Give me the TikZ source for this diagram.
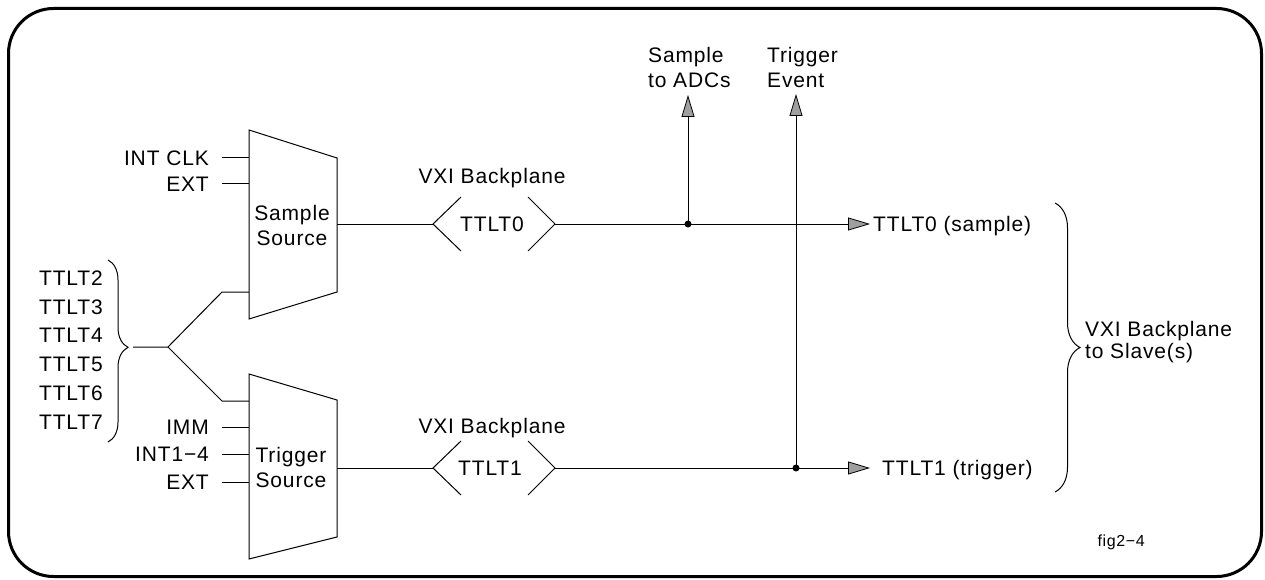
\documentclass[tikz,border=0pt]{standalone}
\usepackage{fontspec}
\setmainfont{Liberation Sans}[LetterSpace=4]
\usetikzlibrary{arrows.meta,decorations.pathreplacing}
\begin{document}
\begin{tikzpicture}[x=1pt,y=-1pt,
  ln/.style={line width=1pt},
  lbl/.style={inner sep=0pt, font=\fontsize{21}{25}\selectfont},
  arr/.style={-{Triangle[length=22pt,width=13pt,fill=gray!75,line width=0.8pt]}},
  dot/.style={circle,fill,inner sep=0pt,minimum size=7pt},
]
\useasboundingbox (0,0) rectangle (1265,580);
\draw[line width=3pt, rounded corners=45pt] (8.5,8.5) rectangle (1261.5,576.5);

% Sample source
\coordinate (ssTL) at (249,130); \coordinate (ssTR) at (337,158);
\coordinate (ssBR) at (337,292); \coordinate (ssBL) at (249,319);
\draw[ln] (ssTL)--(ssTR)--(ssBR)--(ssBL)--cycle;
\node[lbl,align=center] (ssl) at (292,225) {Sample\\Source};
\coordinate (ssIn1) at (249,158); \coordinate (ssIn2) at (249,184);
\coordinate (ssIn3) at (249,292); \coordinate (ssOut) at (337,224);

% Trigger source
\coordinate (tsTL) at (249,374); \coordinate (tsTR) at (337,400);
\coordinate (tsBR) at (337,537); \coordinate (tsBL) at (249,559);
\draw[ln] (tsTL)--(tsTR)--(tsBR)--(tsBL)--cycle;
\node[lbl,align=center] (tsl) at (291,467) {Trigger\\Source};
\coordinate (tsIn0) at (249,401); \coordinate (tsIn1) at (249,427);
\coordinate (tsIn2) at (249,454); \coordinate (tsIn3) at (249,482);
\coordinate (tsOut) at (337,468);

% input labels
\node[lbl,anchor=base east] (intclk) at (209,165.5) {INT CLK};
\node[lbl,anchor=base east] (ext0) at (209,191.5) {EXT};
\node[lbl,anchor=base east] (imm) at (209,434.5) {IMM};
\node[lbl,anchor=base east] (int14) at (209,461.5) {INT1−4};
\node[lbl,anchor=base east] (ext1) at (209,489.5) {EXT};
\coordinate (intclkE) at (222,158); \coordinate (ext0E) at (222,184);
\coordinate (immE) at (222,427); \coordinate (int14E) at (222,454);
\coordinate (ext1E) at (222,482);
\draw[ln] (intclkE) -- (ssIn1);
\draw[ln] (ext0E) -- (ssIn2);
\draw[ln] (immE) -- (tsIn1);
\draw[ln] (int14E) -- (tsIn2);
\draw[ln] (ext1E) -- (tsIn3);

% TTLT stack and junction
\node[lbl,align=right,anchor=east,font=\fontsize{21}{28.8}\selectfont] (ttlts) at (103,350)
  {TTLT2\\TTLT3\\TTLT4\\TTLT5\\TTLT6\\TTLT7};
\draw[ln,decorate,decoration={brace,amplitude=20pt,aspect=0.48}] (108,260) -- (108,442);
\coordinate (jL) at (133,347); \coordinate (j) at (168,347);
\coordinate (jU) at (222,292); \coordinate (jD) at (222,401);
\draw[ln] (jL)--(j)--(jU)--(ssIn3);
\draw[ln] (j)--(jD)--(tsIn0);

% VXI backplane connectors
\coordinate (c0L) at (433,224); \coordinate (c0R) at (555,224);
\draw[ln] (ssOut) -- (c0L);
\draw[ln] ([shift={(28,-27)}]c0L) -- (c0L) -- ([shift={(28,27)}]c0L);
\draw[ln] ([shift={(-27,-27)}]c0R) -- (c0R) -- ([shift={(-27,27)}]c0R);
\node[lbl] (t0) at (492,224) {TTLT0};
\node[lbl,anchor=base] (vxi0) at (492,183) {VXI Backplane};

\coordinate (c1L) at (433,468); \coordinate (c1R) at (555,468);
\draw[ln] (tsOut) -- (c1L);
\draw[ln] ([shift={(28,-27)}]c1L) -- (c1L) -- ([shift={(28,27)}]c1L);
\draw[ln] ([shift={(-27,-27)}]c1R) -- (c1R) -- ([shift={(-27,27)}]c1R);
\node[lbl] (t1) at (490,468) {TTLT1};
\node[lbl,anchor=base] (vxi1) at (492,433) {VXI Backplane};

% junction dots and arrows
\node[dot] (d0) at (688,224) {};
\node[dot] (d1) at (796,468) {};
\coordinate (o0) at (870,224); \coordinate (o1) at (870,468);
\coordinate (up0) at (688,95); \coordinate (up1) at (796,94);
\draw[ln,arr] (c0R) -- (o0);
\draw[ln,arr] (c1R) -- (o1);
\draw[ln,arr] (d0.center) -- (up0);
\draw[ln,arr] (d1.center) -- (up1);

% labels
\node[lbl,anchor=base west] (o0l) at (873,231.5) {TTLT0 (sample)};
\node[lbl,anchor=base west] (o1l) at (882,475.5) {TTLT1 (trigger)};
\node[lbl,align=left,anchor=west] (adc) at (648,67) {Sample\\to ADCs};
\node[lbl,align=left,anchor=west] (trg) at (767,67) {Trigger\\Event};

\draw[ln,decorate,decoration={brace,amplitude=25pt}] (1055,203) -- (1055,492);
\node[lbl,align=left,anchor=west,font=\fontsize{21}{22}\selectfont] (slv) at (1085,342)
  {VXI Backplane\\to Slave(s)};
\node[inner sep=0pt,anchor=base east,font=\fontsize{16}{19}\selectfont] (fig) at (1145,546) {fig2−4};
\end{tikzpicture}
\end{document}
